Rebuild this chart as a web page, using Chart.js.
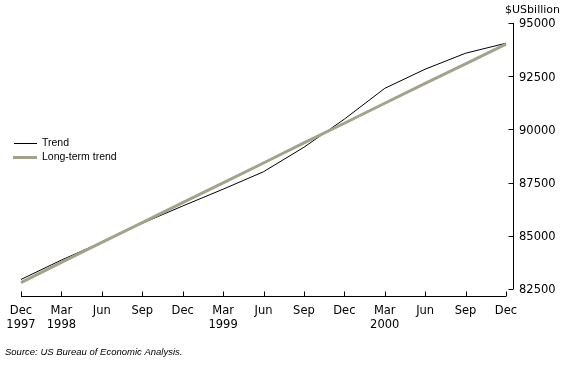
<!DOCTYPE html>
<html>
<head>
<meta charset="utf-8">
<script src="https://cdn.jsdelivr.net/npm/chart.js@4/dist/chart.umd.min.js"></script>
<style>
html,body{margin:0;padding:0;background:#fff;}
canvas{display:block;}
</style>
</head>
<body>
<canvas id="c" width="567" height="378"></canvas>
<script>
const categories = [
  ["Dec","1997"],["Mar","1998"],"Jun","Sep","Dec",["Mar","1999"],"Jun","Sep","Dec",["Mar","2000"],"Jun","Sep","Dec"
];
const trend = [82950, 83860, 84700, 85590, 86400, 87190, 88010, 89160, 90480, 91930, 92830, 93580, 94050];
const longTermTrend = [82800, 83750, 84690, 85620, 86560, 87490, 88420, 89370, 90290, 91230, 92160, 93080, 94010];
const yTicks = [82500, 85000, 87500, 90000, 92500, 95000];
const unitLabel = "$USbillion";
const sourceText = "Source: US Bureau of Economic Analysis.";
const seriesNames = ["Trend", "Long-term trend"];

const TICK_FONT = {family: "DejaVu Sans", size: 11.5};

const axesPlugin = {
  id: 'customAxes',
  afterDraw(chart) {
    const ctx = chart.ctx;
    const xs = chart.scales.x, ys = chart.scales.y;
    const area = chart.chartArea;
    ctx.save();
    ctx.strokeStyle = '#000';
    ctx.lineWidth = 1;
    // x axis line below the plot
    const xAxisY = area.bottom + 7.5;
    ctx.beginPath();
    ctx.moveTo(xs.getPixelForValue(0), xAxisY);
    ctx.lineTo(xs.getPixelForValue(categories.length - 1), xAxisY);
    for (let i = 0; i < categories.length; i++) {
      const px = Math.round(xs.getPixelForValue(i)) + 0.5;
      ctx.moveTo(px, xAxisY);
      ctx.lineTo(px, xAxisY - 5);
    }
    ctx.stroke();
    // y axis line on the right
    const yAxisX = area.right + 7.5;
    ctx.beginPath();
    ctx.moveTo(yAxisX, ys.getPixelForValue(yTicks[yTicks.length - 1]));
    ctx.lineTo(yAxisX, ys.getPixelForValue(yTicks[0]));
    for (const v of yTicks) {
      const py = Math.round(ys.getPixelForValue(v)) + 0.5;
      ctx.moveTo(yAxisX, py);
      ctx.lineTo(yAxisX - 5, py);
    }
    ctx.stroke();

    // unit label
    ctx.fillStyle = '#000';
    ctx.font = '11px "DejaVu Sans"';
    ctx.textAlign = 'right';
    ctx.textBaseline = 'middle';
    ctx.fillText(unitLabel, 560, 10);

    // legend
    ctx.textAlign = 'left';
    ctx.font = '10.5px "Liberation Sans"';
    ctx.beginPath();
    ctx.strokeStyle = '#000';
    ctx.lineWidth = 1;
    ctx.moveTo(14, 143.5); ctx.lineTo(37, 143.5);
    ctx.stroke();
    ctx.fillText(seriesNames[0], 42, 143);
    ctx.beginPath();
    ctx.strokeStyle = '#a3a28b';
    ctx.lineWidth = 3;
    ctx.moveTo(13, 157.5); ctx.lineTo(37, 157.5);
    ctx.stroke();
    ctx.fillText(seriesNames[1], 42, 157);

    // source
    ctx.font = 'italic 9.5px "Liberation Sans"';
    ctx.fillText(sourceText, 5, 352);
    ctx.restore();
  }
};

new Chart(document.getElementById('c'), {
  type: 'line',
  data: {
    labels: categories,
    datasets: [
      {label: seriesNames[1], data: longTermTrend, borderColor: '#a3a28b', borderWidth: 3, pointRadius: 0, tension: 0, fill: false},
      {label: seriesNames[0], data: trend, borderColor: '#000', borderWidth: 1, pointRadius: 0, tension: 0, fill: false}
    ]
  },
  options: {
    responsive: false,
    animation: false,
    devicePixelRatio: 1,
    layout: {padding: {top: 23, left: 21, right: 0, bottom: 0}},
    plugins: {legend: {display: false}, tooltip: {enabled: false}},
    scales: {
      x: {
        type: 'category',
        offset: false,
        grid: {display: false, drawTicks: false},
        border: {display: false},
        ticks: {color: '#000', font: TICK_FONT, padding: 15, maxRotation: 0, autoSkip: false},
        afterFit(s) { s.height = 378 - 23 - 266; s.paddingLeft = 0; s.paddingRight = 0; }
      },
      y: {
        position: 'right',
        min: 82500, max: 95000,
        grid: {display: false, drawTicks: false},
        border: {display: false},
        afterBuildTicks(s) { s.ticks = yTicks.map(v => ({value: v})); },
        ticks: {color: '#000', font: TICK_FONT, padding: 13, labelOffset: 1.5, callback: v => String(v)},
        afterFit(s) { s.width = 567 - 506; s.paddingTop = 0; s.paddingBottom = 0; }
      }
    }
  },
  plugins: [axesPlugin]
});
</script>
</body>
</html>
